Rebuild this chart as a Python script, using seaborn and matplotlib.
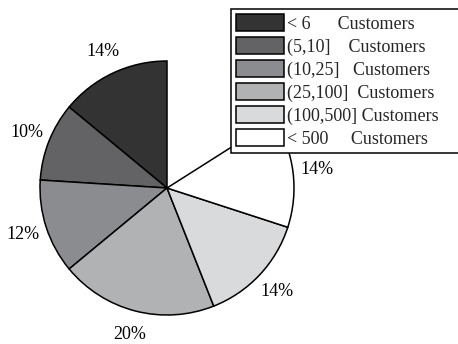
import matplotlib
matplotlib.use("Agg")
import matplotlib.pyplot as plt
import seaborn as sns

# Share of customers by group size (fractions of all sites; the rest is unassigned)
categories = ["< 6", "(5,10]", "(10,25]", "(25,100]", "(100,500]", "< 500"]
legend_labels = [
    "< 6      Customers",
    "(5,10]    Customers",
    "(10,25]   Customers",
    "(25,100]  Customers",
    "(100,500] Customers",
    "< 500     Customers",
]
shares = [0.14, 0.10, 0.12, 0.20, 0.14, 0.14]
colors = ["#333333", "#636365", "#8b8c8f", "#b1b2b4", "#d9dadc", "#ffffff"]

sns.set_theme(style="white")
plt.rcParams["font.family"] = ["Liberation Serif", "DejaVu Serif"]

W, H = 458, 344
fig = plt.figure(figsize=(W / 100, H / 100), dpi=100)

cx, cy, r = 167, H - 188, 127
ax = fig.add_axes([(cx - r) / W, (cy - r) / H, 2 * r / W, 2 * r / H])

wedges, texts, autotexts = ax.pie(
    shares,
    colors=sns.color_palette(colors),
    startangle=90,
    counterclock=True,
    normalize=False,
    autopct=lambda p: f"{p:.0f}%",
    pctdistance=1.19,
    wedgeprops=dict(edgecolor="black", linewidth=1.1),
    textprops=dict(fontsize=13, color="black"),
)
ax.set_xlim(-1, 1)
ax.set_ylim(-1, 1)
ax.set_aspect("equal")
ax.axis("off")

leg = fig.legend(
    wedges,
    legend_labels,
    loc="upper left",
    bbox_to_anchor=(231 / W, (H - 9) / H, 240 / W, 0.0),
    mode="expand",
    borderaxespad=0,
    fontsize=13,
    frameon=True,
    fancybox=False,
    handlelength=2.65,
    handleheight=1.0,
    handletextpad=0.15,
    labelspacing=0.26,
    borderpad=0.3,
)
frame = leg.get_frame()
frame.set_edgecolor("black")
frame.set_linewidth(1.1)
frame.set_alpha(1)

fig.savefig("out.png", dpi=100)
